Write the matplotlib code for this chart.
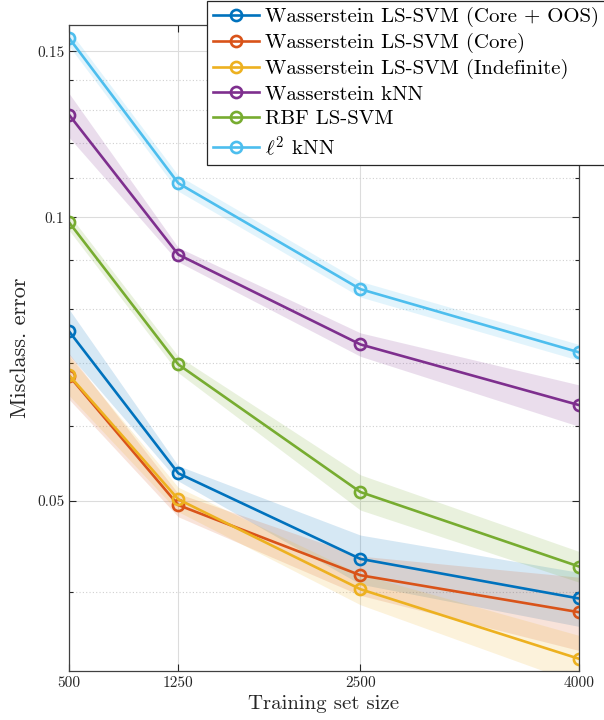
import numpy as np
import matplotlib
matplotlib.use("Agg")
import matplotlib.pyplot as plt
from matplotlib.ticker import FixedLocator, FixedFormatter, NullFormatter

plt.rcParams['font.family'] = 'serif'
plt.rcParams['font.serif'] = ['cmr10', 'DejaVu Serif']
plt.rcParams['mathtext.fontset'] = 'cm'
plt.rcParams['axes.formatter.use_mathtext'] = True

# данные
sizes = [500, 1250, 2500, 4000]
labels = ["Wasserstein LS-SVM (Core + OOS)", "Wasserstein LS-SVM (Core)",
          "Wasserstein LS-SVM (Indefinite)", "Wasserstein kNN", "RBF LS-SVM",
          r"$\ell^2$ kNN"]
colors = ["#0072BD", "#D95319", "#EDB120", "#7E2F8E", "#77AC30", "#4DBEEE"]

core_oos = [0.0757, 0.0535, 0.0434, 0.0394]
core_oos_std = [0.0042, 0.0010, 0.0026, 0.0026]
core = [0.0679, 0.0495, 0.0417, 0.0381]
core_std = [0.0038, 0.0014, 0.0020, 0.0034]
indef = [0.0680, 0.0502, 0.0403, 0.0340]
indef_std = [0.0033, 0.0015, 0.0015, 0.0020]
w_knn = [0.1285, 0.0913, 0.0733, 0.0632]
w_knn_std = [0.0069, 0.0016, 0.0021, 0.0032]
rbf = [0.0988, 0.0698, 0.0511, 0.0426]
rbf_std = [0.0019, 0.0014, 0.0022, 0.0016]
l2_knn = [0.155, 0.1087, 0.0839, 0.0719]
l2_knn_std = [0.0030, 0.0021, 0.0016, 0.0014]

means = [core_oos, core, indef, w_knn, rbf, l2_knn]
stds = [core_oos_std, core_std, indef_std, w_knn_std, rbf_std, l2_knn_std]

fig = plt.figure(figsize=[6.04, 7.2], dpi=100)
ax = fig.add_axes([69/604, 1-671/720, 510/604, 646/720])

x = np.array(sizes)
for m, s, c in zip(means, stds, colors):
    m = np.array(m)
    s = np.array(s)
    ax.fill_between(x, m - s, m + s, color=c, alpha=0.16, linewidth=0)
handles = []
for m, c, lab in zip(means, colors, labels):
    h, = ax.plot(x, m, color=c, linewidth=1.9, marker="o", markersize=8,
                 markerfacecolor="none", markeredgewidth=1.9, label=lab)
    handles.append(h)

ax.set_yscale("log")
ax.set(xlim=[500, 4000], ylim=[0.033, 0.16])
ax.set_xticks(sizes)
ax.set_xticklabels([str(v) for v in sizes])
ax.yaxis.set_major_locator(FixedLocator([0.05, 0.1, 0.15]))
ax.yaxis.set_major_formatter(FixedFormatter(["0.05", "0.1", "0.15"]))
ax.yaxis.set_minor_locator(FixedLocator([0.04, 0.06, 0.07, 0.08, 0.09,
                                         0.11, 0.12, 0.13, 0.14]))
ax.yaxis.set_minor_formatter(NullFormatter())
ax.tick_params(which="both", direction="in", top=True, right=True,
               labelsize=11, colors="#262626", width=0.8)
ax.tick_params(which="major", length=5)
ax.tick_params(which="minor", length=3)
for sp in ax.spines.values():
    sp.set_color("#404040")
    sp.set_linewidth(0.9)
ax.grid(True, which="major", color="#dcdcdc", linewidth=0.8)
ax.grid(True, which="minor", axis="y", color="#d0d0d0", linewidth=0.8,
        linestyle=(0, (1, 2)))
ax.set_axisbelow(True)

ax.set_xlabel("Training set size", fontsize=15, color="#262626", labelpad=4)
ax.set_ylabel("Misclass. error", fontsize=16, color="#262626", labelpad=5)

leg = fig.legend(handles=handles, loc="upper left",
                 bbox_to_anchor=(207/604, 1 - 1/720), fontsize=15,
                 handlelength=2.2, handletextpad=0.3, labelspacing=0.28,
                 borderpad=0.3, borderaxespad=0, fancybox=False,
                 framealpha=1, edgecolor="#262626")
leg.get_frame().set_linewidth(0.9)

fig.savefig("out.png", dpi=100)
